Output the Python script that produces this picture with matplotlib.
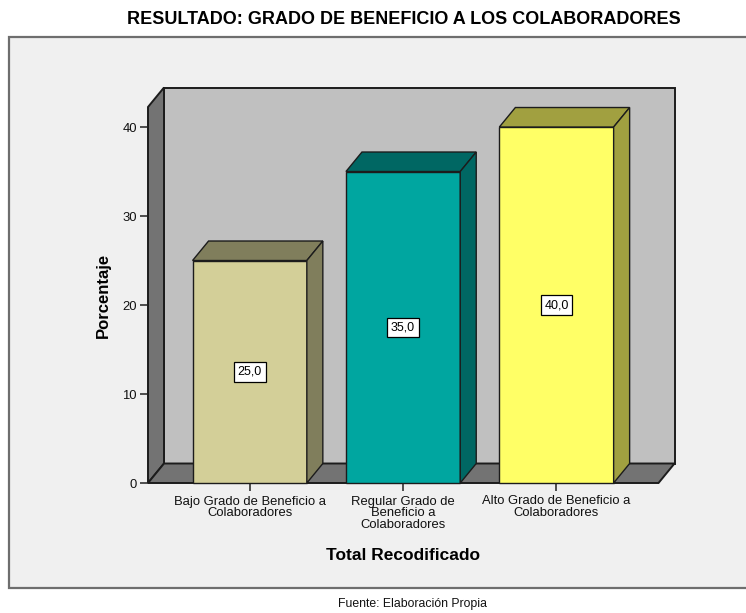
import numpy as np
import matplotlib.pyplot as plt
from matplotlib.patches import Polygon, Rectangle

plt.rcParams['font.family'] = ['Liberation Sans', 'DejaVu Sans']

# data
categories = ['Bajo Grado de Beneficio a\nColaboradores',
              'Regular Grado de\nBeneficio a\nColaboradores',
              'Alto Grado de Beneficio a\nColaboradores']
values = [25.0, 35.0, 40.0]
front_colors = ['#d3cf98', '#00a6a0', '#ffff66']
side_colors = ['#807e5c', '#006763', '#a1a040']
yticks = [0, 10, 20, 30, 40]

W, H = 746, 613
fig = plt.figure(figsize=(W/100, H/100), dpi=100)
fig.patch.set_facecolor('white')

# outer panel
fig.patches.append(Rectangle((9/W, (H-588)/H), (W+5-9)/W, (588-37)/H,
                             transform=fig.transFigure, facecolor='#f0f0f0',
                             edgecolor='#6e6e6e', lw=1.6, zorder=-10))

ax = fig.add_axes([148/W, (H-483)/H, (658.5-148)/W, (483-107)/H])
ax.set_facecolor('none')
x0, x1 = -0.663, 2.665
ytop = 42.25
ax.set_xlim(x0, x1)
ax.set_ylim(0, ytop)
for s in ax.spines.values():
  s.set_visible(False)

# depth offset in data units (16 px right, 19.5 px up)
ddx = 16 / (510.5 / (x1 - x0))
ddy = 19.5 / (376 / ytop)
ec = '#1c1c1c'

def poly(pts, fc, lw=1.0, z=1):
  ax.add_patch(Polygon(pts, closed=True, facecolor=fc, edgecolor=ec,
                       lw=lw, clip_on=False, zorder=z, joinstyle='miter'))

# back wall, left wall, floor
poly([(x0+ddx, ddy), (x1+ddx, ddy), (x1+ddx, ytop+ddy), (x0+ddx, ytop+ddy)],
     '#c0c0c0', lw=1.4)
poly([(x0, 0), (x0, ytop), (x0+ddx, ytop+ddy), (x0+ddx, ddy)], '#737373',
     lw=1.4)
poly([(x0, 0), (x1, 0), (x1+ddx, ddy), (x0+ddx, ddy)], '#737373', lw=1.4)

# bars
bw = 0.745
for i, v in enumerate(values):
  l, r = i - bw/2, i + bw/2
  poly([(l, 0), (r, 0), (r, v), (l, v)], front_colors[i], z=3)
  poly([(l, v), (r, v), (r+ddx, v+ddy), (l+ddx, v+ddy)], side_colors[i], z=3)
  poly([(r, 0), (r+ddx, ddy), (r+ddx, v+ddy), (r, v)], side_colors[i], z=3)
  ax.text(i, v/2, ('%.1f' % v).replace('.', ','), ha='center', va='center',
          fontsize=9, color='black', zorder=5,
          bbox=dict(boxstyle='square,pad=0.3', facecolor='white',
                    edgecolor='black', lw=0.9))

ax.set_yticks(yticks)
ax.set_xticks(range(len(categories)))
ax.set_xticklabels(categories, fontsize=9.4, linespacing=1.0, color='#111111')
ax.tick_params(axis='y', length=6, width=1.1, pad=2, labelsize=9.4,
               color='#222222', labelcolor='#111111')
ax.tick_params(axis='x', length=6, width=1.1, pad=3, color='#222222')
ax.set_ylabel('Porcentaje', fontsize=12, fontweight='bold', labelpad=8)
ax.set_xlabel('Total Recodificado', fontsize=12.5, fontweight='bold',
              labelpad=12)

fig.text(404/W, 1 - 20/H, 'RESULTADO: GRADO DE BENEFICIO A LOS COLABORADORES',
         ha='center', va='center', fontsize=13, fontweight='bold')
fig.text(412/W, 1 - 604/H, 'Fuente: Elaboración Propia', ha='center',
         va='center', fontsize=8.8, color='#111111')

fig.savefig('out.png', dpi=100, facecolor=fig.get_facecolor())
